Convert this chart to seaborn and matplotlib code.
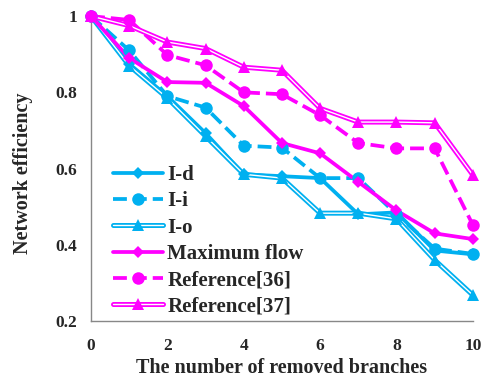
import matplotlib
matplotlib.use("Agg")
import matplotlib.pyplot as plt
import matplotlib.patheffects as pe
from matplotlib.legend_handler import HandlerTuple
import seaborn as sns
import numpy as np

removed = [0, 1, 2, 3, 4, 5, 6, 7, 8, 9, 10]
i_d = [1.0, 0.875, 0.79, 0.693, 0.585, 0.58, 0.575, 0.48, 0.485, 0.385, 0.375]
i_i = [1.0, 0.91, 0.79, 0.76, 0.66, 0.655, 0.575, 0.575, 0.48, 0.39, 0.376]
i_o = [1.0, 0.87, 0.785, 0.685, 0.585, 0.575, 0.483, 0.483, 0.468, 0.36, 0.268]
max_flow = [1.0, 0.89, 0.827, 0.825, 0.764, 0.667, 0.64, 0.565, 0.49, 0.43, 0.415]
ref36 = [1.0, 0.99, 0.898, 0.871, 0.80, 0.795, 0.74, 0.667, 0.653, 0.653, 0.452]
ref37 = [1.0, 0.975, 0.932, 0.915, 0.866, 0.858, 0.758, 0.722, 0.722, 0.72, 0.583]
labels = ["I-d", "I-i", "I-o", "Maximum flow", "Reference[36]", "Reference[37]"]

blue = "#00B0F0"
mag = "#FF00FF"

sns.set_style("white")
plt.rcParams["font.family"] = ["Liberation Serif", "DejaVu Serif"]
plt.rcParams["font.weight"] = "bold"

fig = plt.figure(figsize=(4.84, 3.84), dpi=100)
ax = fig.add_axes([0.188, 0.164, 0.789, 0.794])

series = [
    (i_d, blue, "D", 6.5, "solid"),
    (i_i, blue, "o", 9.0, "dashed"),
    (i_o, blue, "^", 9.0, "double"),
    (max_flow, mag, "D", 6.5, "solid"),
    (ref36, mag, "o", 9.0, "dashed"),
    (ref37, mag, "^", 9.0, "double"),
]

handles = []
for (vals, col, mk, ms, style), lab in zip(series, labels):
    if style == "double":
        sns.lineplot(x=removed, y=vals, ax=ax, color="white", linewidth=1.0,
                     path_effects=[pe.Stroke(linewidth=3.6, foreground=col), pe.Normal()],
                     clip_on=False, zorder=2)
    else:
        sns.lineplot(x=removed, y=vals, ax=ax, color=col, linewidth=2.7,
                     linestyle="--" if style == "dashed" else "-",
                     dashes=(3, 1.6) if style == "dashed" else (None, None),
                     clip_on=False, zorder=2)
    line = ax.lines[-1]
    sns.lineplot(x=removed, y=vals, ax=ax, color=col, linestyle="none", marker=mk,
                 markersize=ms, markeredgewidth=0, clip_on=False, zorder=3)
    mline = ax.lines[-1]
    handles.append((line, mline))

ax.set_xlim(0, 10)
ax.set_ylim(0.2, 1.0)
ax.set_xticks([0, 2, 4, 6, 8, 10])
ax.set_xticklabels(["0", "2", "4", "6", "8", "10"])
ax.set_yticks([0.2, 0.4, 0.6, 0.8, 1.0])
ax.set_yticklabels(["0.2", "0.4", "0.6", "0.8", "1"])
for s in ["top", "right"]:
    ax.spines[s].set_visible(False)
for s in ["left", "bottom"]:
    ax.spines[s].set_color("#888888")
    ax.spines[s].set_linewidth(1.0)
ax.tick_params(axis="both", direction="out", length=4, width=1, color="#888888",
               labelsize=12.5, pad=6)
ax.tick_params(axis="x", pad=8)
for t in ax.get_xticklabels() + ax.get_yticklabels():
    t.set_fontweight("bold")
ax.set_xlabel("The number of removed branches", fontsize=14.5, fontweight="bold", labelpad=3)
ax.set_ylabel("Network efficiency", fontsize=14.5, fontweight="bold")
ax.yaxis.set_label_coords(-0.152, 0.485)

leg = ax.legend(handles, labels, handler_map={tuple: HandlerTuple(ndivide=1)},
                loc="lower left", bbox_to_anchor=(0.058, 0.015), frameon=False,
                handlelength=2.4, prop={"family": ["Liberation Serif"], "weight": "bold", "size": 15},
                labelspacing=0.3, handletextpad=0.2, borderpad=0, borderaxespad=0)

fig.savefig("out.png", dpi=100)
